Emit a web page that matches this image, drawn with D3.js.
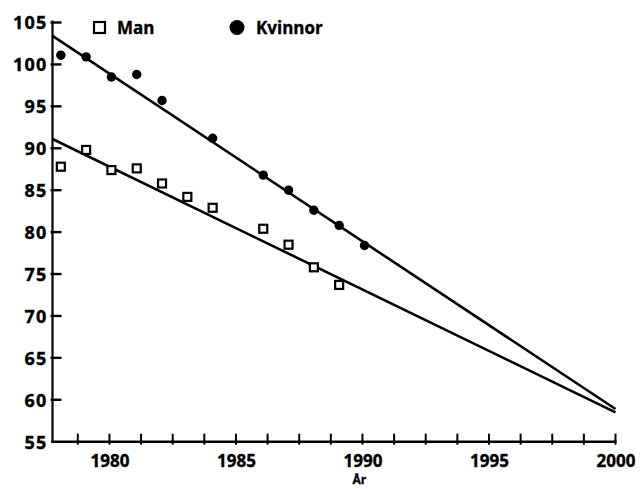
<!DOCTYPE html>
<html>
<head>
<meta charset="utf-8">
<script src="https://cdn.jsdelivr.net/npm/d3@7/dist/d3.min.js"></script>
<style>
  html, body { margin: 0; padding: 0; background: #fff; }
  text { font-family: "Open Sans", "DejaVu Sans", sans-serif; font-weight: 700; fill: #000;
         stroke: #000; stroke-width: 0.35px; }
</style>
</head>
<body>
<svg id="chart" width="640" height="489"></svg>
<script>
// ---- data ----
const yearsMan = [1978, 1979, 1980, 1981, 1982, 1983, 1984, 1986, 1987, 1988, 1989];
const valuesMan = [87.8, 89.8, 87.4, 87.6, 85.8, 84.2, 82.9, 80.4, 78.5, 75.8, 73.7];
const yearsKvinnor = [1978, 1979, 1980, 1981, 1982, 1984, 1986, 1987, 1988, 1989, 1990];
const valuesKvinnor = [101.1, 100.9, 98.5, 98.8, 95.7, 91.2, 86.8, 85.0, 82.6, 80.8, 78.4];
const trendYears = [1977.75, 2000];
const trendMan = [91.1, 58.5];
const trendKvinnor = [103.4, 58.9];
const yTickValues = [55, 60, 65, 70, 75, 80, 85, 90, 95, 100, 105];
const xLabelValues = [1980, 1985, 1990, 1995, 2000];
const xMinorTicks = [1978.75, 1980, 1981.25, 1982.5, 1983.75, 1985, 1986.25, 1987.5, 1988.75,
                     1990, 1991.25, 1992.5, 1993.75, 1995, 1996.25, 1997.5, 1998.75, 2000];
const legendLabels = ["Man", "Kvinnor"];
const xTitle = "År";

// ---- scales ----
const svg = d3.select("#chart");
const x = d3.scaleLinear().domain([1977.75, 2000]).range([52.5, 615.5]);
const y = d3.scaleLinear().domain([55, 105]).range([441.7, 22.5]);
const x0 = x(1977.75), y0 = y(55);

// ---- y axis (labels through d3 axis) ----
const yAxis = svg.append("g")
  .attr("transform", `translate(${x0},0)`)
  .call(d3.axisLeft(y).tickValues(yTickValues).tickSize(0).tickSizeOuter(0).tickPadding(5)
        .tickFormat(d3.format("d")));
yAxis.select(".domain").remove();
yAxis.selectAll(".tick text").style("font-size", "18px").style("letter-spacing", "1.2px")
  .attr("dy", "0.36em");

// y tick marks (pointing inward)
svg.append("g").selectAll("line")
  .data(yTickValues.filter(d => d !== 55)).join("line")
  .attr("x1", x0 - 2).attr("x2", x0 + 9)
  .attr("y1", d => y(d)).attr("y2", d => y(d))
  .attr("stroke", "#000").attr("stroke-width", 2.4);
// y axis line
svg.append("line")
  .attr("x1", x0).attr("x2", x0).attr("y1", y(55) + 1.3).attr("y2", y(105) - 2)
  .attr("stroke", "#000").attr("stroke-width", 2.2);

// ---- x axis ----
svg.append("line")
  .attr("x1", x0 - 1).attr("x2", x(2000) + 1).attr("y1", y0).attr("y2", y0)
  .attr("stroke", "#000").attr("stroke-width", 2.6);
svg.append("g").selectAll("line")
  .data(xMinorTicks).join("line")
  .attr("x1", d => x(d)).attr("x2", d => x(d))
  .attr("y1", y0 - 8).attr("y2", y0 + 3)
  .attr("stroke", "#000").attr("stroke-width", 2);

// x labels via axis
const xAxisLabels = svg.append("g")
  .attr("transform", `translate(0,${y0})`)
  .call(d3.axisBottom(x).tickValues(xLabelValues).tickSize(0).tickPadding(0).tickFormat(d3.format("d")));
xAxisLabels.select(".domain").remove();
xAxisLabels.selectAll(".tick line").remove();
xAxisLabels.selectAll(".tick text").style("font-size", "17px").attr("dy", null).attr("y", 25.5);

svg.append("text")
  .attr("x", x(1990) - 3).attr("y", 484)
  .attr("text-anchor", "middle").style("font-size", "12px")
  .text(xTitle);

// ---- trend lines ----
const line = d3.line().x(d => x(d[0])).y(d => y(d[1]));
svg.append("path")
  .datum(d3.zip(trendYears, trendKvinnor))
  .attr("d", line).attr("fill", "none").attr("stroke", "#000").attr("stroke-width", 2.6);
svg.append("path")
  .datum(d3.zip(trendYears, trendMan))
  .attr("d", line).attr("fill", "none").attr("stroke", "#000").attr("stroke-width", 2.6);

// ---- points ----
const sq = 8;
svg.append("g").selectAll("rect")
  .data(d3.zip(yearsMan, valuesMan)).join("rect")
  .attr("x", d => x(d[0]) + 2 - sq / 2).attr("y", d => y(d[1]) - sq / 2)
  .attr("width", sq).attr("height", sq)
  .attr("fill", "#fff").attr("stroke", "#000").attr("stroke-width", 2.2);
svg.append("g").selectAll("circle")
  .data(d3.zip(yearsKvinnor, valuesKvinnor)).join("circle")
  .attr("cx", d => x(d[0]) + 2).attr("cy", d => y(d[1]))
  .attr("r", 4.7).attr("fill", "#000");

// ---- legend ----
const legend = svg.append("g");
legend.append("rect").attr("x", 94).attr("y", 22).attr("width", 11).attr("height", 11)
  .attr("fill", "#fff").attr("stroke", "#000").attr("stroke-width", 2.2);
legend.append("text").attr("x", 117).attr("y", 34).style("font-size", "17px").text(legendLabels[0]);
legend.append("circle").attr("cx", 237).attr("cy", 27.5).attr("r", 7.5).attr("fill", "#000");
legend.append("text").attr("x", 256).attr("y", 34).style("font-size", "17px").text(legendLabels[1]);
</script>
</body>
</html>
